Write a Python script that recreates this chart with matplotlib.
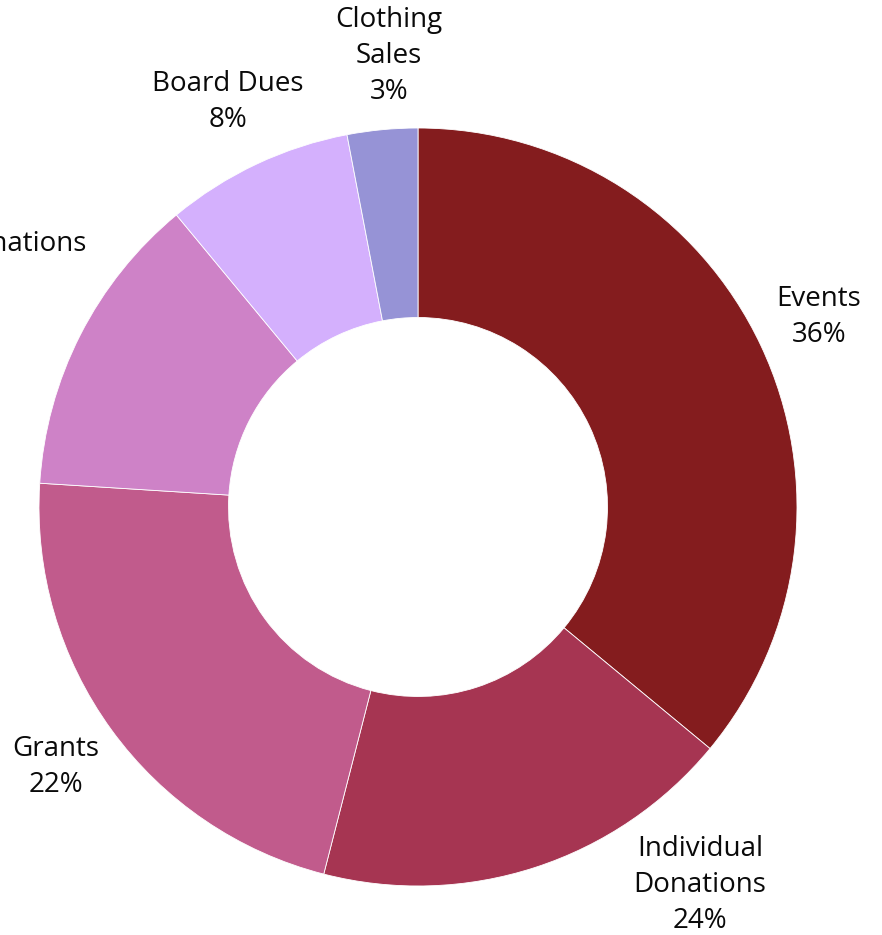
import matplotlib as mpl
import matplotlib.pyplot as plt
import numpy as np

# slices, clockwise from 12 o'clock
categories = ["Events", "Individual\nDonations", "Grants", "Corporate Donations", "Board Dues", "Clothing\nSales"]
shares = [36, 18, 22, 13, 8, 3]
pct_labels = ["36%", "24%", "22%", "13%", "8%", "3%"]
colors = ["#841C1E", "#A63552", "#C15B8C", "#CE82C7", "#D4B0FD", "#9693D6"]

W, H = 882, 935
cx, cy, R = 418, 507, 379   # pie centre / radius in pixels

# label centres in pixels (layout only)
label_px = [(819, 317), (700, 885), (56, 767), (86, 262), (228, 102), (389, 56)]
label_ha = ["center", "center", "center", "right", "center", "center"]

plt.rcParams['font.family'] = ['Open Sans', 'DejaVu Sans']

fig = plt.figure(figsize=(W/100, H/100), dpi=100)
ax = fig.add_axes([0, 0, 1, 1])

ax.pie(shares, colors=colors, startangle=90, counterclock=False, radius=1,
       wedgeprops=dict(width=0.5, edgecolor="white", linewidth=0.6))

ax.set_xlim(-cx/R, (W-cx)/R)
ax.set_ylim(-(H-cy)/R, cy/R)
ax.set_aspect('auto')
ax.axis('off')

for name, pct, (px, py), ha in zip(categories, pct_labels, label_px, label_ha):
    x = (px-cx)/R
    y = (cy-py)/R
    ax.text(x, y, name + "\n" + pct, ha=ha, va="center", multialignment="center",
            fontsize=20, color="#0a0a0a", linespacing=1.37)

plt.savefig("out.png", dpi=100)
